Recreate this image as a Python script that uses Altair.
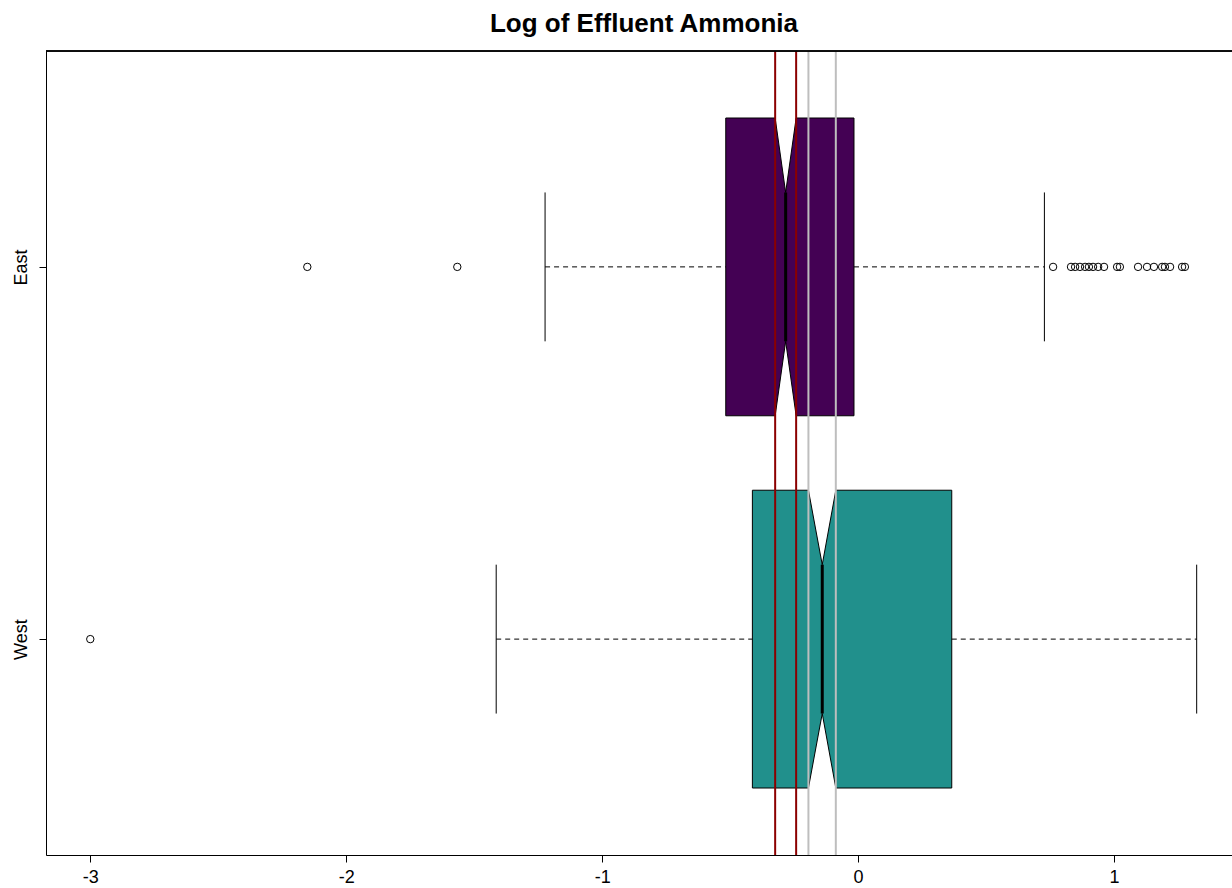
import altair as alt
import pandas as pd

# ---- data ----
groups = ["West", "East"]
positions = [1, 2]
fills = ["#21908C", "#440154"]
q1 = [-0.413, -0.517]
q3 = [0.366, -0.016]
medians = [-0.140, -0.283]
notch_lo = [-0.194, -0.324]
notch_hi = [-0.087, -0.242]
whisk_lo = [-1.414, -1.223]
whisk_hi = [1.323, 0.728]

outlier_group = ["West"] + ["East"] * 21
outlier_values = [-3.0,
                  -2.152, -1.566,
                  0.762, 0.832, 0.848, 0.867, 0.887, 0.902, 0.918, 0.938, 0.961,
                  1.012, 1.023, 1.094, 1.129, 1.156, 1.188, 1.199, 1.219, 1.266, 1.277]

ref_lines = [-0.324, -0.242, -0.194, -0.087]
ref_colors = ["#8B0000", "#8B0000", "#BEBEBE", "#BEBEBE"]

title_text = ["Log of Effluent Ammonia"]

HALF = 0.4   # half box width
STAPLE = 0.2

# ---- build tables ----
poly_rows = []
for g, p, f, a, b, m, nl, nh in zip(groups, positions, fills, q1, q3, medians, notch_lo, notch_hi):
    pts = [(a, HALF), (nl, HALF), (m, HALF / 2), (nh, HALF), (b, HALF)]
    for x, h in pts:
        poly_rows.append({"group": g, "fill": f, "x": x, "y": p - h, "y2": p + h})
poly = pd.DataFrame(poly_rows)

summary = pd.DataFrame({
    "group": groups, "pos": positions, "q1": q1, "q3": q3, "med": medians,
    "wlo": whisk_lo, "whi": whisk_hi,
})
summary["pos_lo"] = summary["pos"] - STAPLE
summary["pos_hi"] = summary["pos"] + STAPLE
summary["med_lo"] = summary["pos"] - HALF / 2
summary["med_hi"] = summary["pos"] + HALF / 2

pos_map = dict(zip(groups, positions))
outliers = pd.DataFrame({"group": outlier_group, "value": outlier_values})
outliers["pos"] = outliers["group"].map(pos_map)

refs = pd.DataFrame({"x": ref_lines, "color": ref_colors})
titles = pd.DataFrame({"t": title_text})

W, H = 1186, 804
FONT = "Liberation Sans"

xscale = alt.Scale(domain=[-3.173, 1.461], nice=False, zero=False)
yscale = alt.Scale(domain=[0.42, 2.58], nice=False, zero=False)

xaxis = alt.Axis(values=[-3, -2, -1, 0, 1], labelExpr="toString(datum.value)",
                 grid=False, title=None,
                 labelFontSize=18, labelFont=FONT, labelColor="black",
                 tickSize=7, tickColor="black", domainColor="black",
                 labelPadding=6, labelFlush=False)
yaxis = alt.Axis(values=[1, 2], grid=False, title=None,
                 labelExpr="datum.value == 1 ? 'West' : 'East'",
                 labelAngle=270, labelAlign="center", labelBaseline="bottom",
                 labelFontSize=18, labelFont=FONT, labelColor="black",
                 tickSize=7, tickColor="black", domainColor="black",
                 labelPadding=9)

base_x = alt.X("x:Q", scale=xscale, axis=xaxis)

boxes = alt.Chart(poly).mark_area(stroke="black", strokeWidth=1, opacity=1).encode(
    x=base_x,
    y=alt.Y("y:Q", scale=yscale, axis=yaxis, stack=None),
    y2="y2:Q",
    detail="group:N",
    fill=alt.Fill("fill:N", scale=None),
)

whisk_left = alt.Chart(summary).mark_rule(color="black", strokeWidth=1, strokeDash=[5, 4]).encode(
    x=alt.X("wlo:Q", scale=xscale), x2="q1:Q", y=alt.Y("pos:Q", scale=yscale))
whisk_right = alt.Chart(summary).mark_rule(color="black", strokeWidth=1, strokeDash=[5, 4]).encode(
    x=alt.X("q3:Q", scale=xscale), x2="whi:Q", y=alt.Y("pos:Q", scale=yscale))
staple_lo = alt.Chart(summary).mark_rule(color="black", strokeWidth=1).encode(
    x=alt.X("wlo:Q", scale=xscale), y=alt.Y("pos_lo:Q", scale=yscale), y2="pos_hi:Q")
staple_hi = alt.Chart(summary).mark_rule(color="black", strokeWidth=1).encode(
    x=alt.X("whi:Q", scale=xscale), y=alt.Y("pos_lo:Q", scale=yscale), y2="pos_hi:Q")
median = alt.Chart(summary).mark_rule(color="black", strokeWidth=3).encode(
    x=alt.X("med:Q", scale=xscale), y=alt.Y("med_lo:Q", scale=yscale), y2="med_hi:Q")

points = alt.Chart(outliers).mark_point(shape="circle", filled=False, color="black",
                                        size=55, strokeWidth=1, opacity=1).encode(
    x=alt.X("value:Q", scale=xscale), y=alt.Y("pos:Q", scale=yscale))

vlines = alt.Chart(refs).mark_rule(strokeWidth=2).encode(
    x=alt.X("x:Q", scale=xscale),
    y=alt.value(0), y2=alt.value(H),
    color=alt.Color("color:N", scale=None),
)

top_border = alt.Chart(refs).mark_rule(color="black", strokeWidth=1).encode(
    x=alt.value(0), x2=alt.value(W), y=alt.value(0))

title = alt.Chart(titles).mark_text(
    font=FONT, fontSize=26, fontWeight="bold", color="black",
    align="center", baseline="alphabetic",
).encode(text="t:N", x=alt.value(598), y=alt.value(-19))

chart = alt.layer(
    boxes, whisk_left, whisk_right, staple_lo, staple_hi, median, points, vlines,
    top_border, title
).properties(
    width=W, height=H,
    autosize=alt.AutoSizeParams(type="none"),
    padding={"left": 46, "top": 51, "right": 0, "bottom": 30},
).configure_view(stroke=None).configure(background="white")

chart.save("out.html", embed_options={"renderer": "svg", "actions": False})
